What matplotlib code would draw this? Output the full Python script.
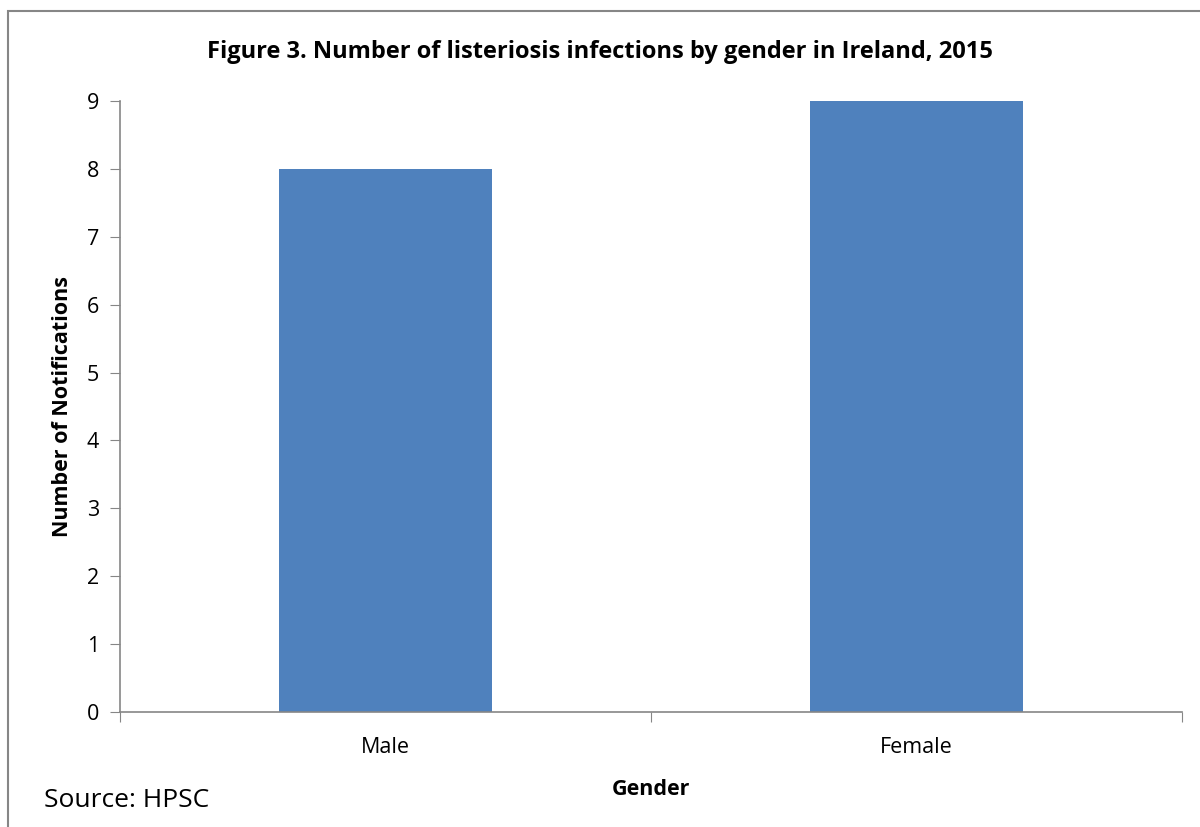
import matplotlib.pyplot as plt
from matplotlib.patches import Rectangle

genders = ["Male", "Female"]
notifications = [8, 9]
y_ticks = list(range(0, 10))

plt.rcParams['font.family'] = ['Open Sans', 'DejaVu Sans']

fig = plt.figure(figsize=(12, 8.27), dpi=100)
ax = fig.add_axes([0.1, 0.139, 0.885, 0.739])

x = list(range(len(genders)))
ax.bar(x, notifications, width=0.4, color='#4F81BD')

ax.set_xlim(-0.5, len(genders) - 0.5)
ax.set_ylim(0, 9)
ax.set_yticks(y_ticks)
ax.set_xticks([-0.5, 0.5, 1.5])
ax.set_xticklabels([])
ax.set_xticks(x, minor=True)
ax.set_xticklabels(genders, minor=True)
ax.tick_params(axis='x', which='minor', length=0, pad=18, labelsize=15.5)
ax.tick_params(axis='x', which='major', length=7, color='#868686', direction='out')
ax.tick_params(axis='y', length=7, color='#868686', labelsize=15.5, pad=8)

for side in ['top', 'right']:
    ax.spines[side].set_visible(False)
for side in ['left', 'bottom']:
    ax.spines[side].set_color('#868686')
    ax.spines[side].set_linewidth(1.2)

ax.set_xlabel("Gender", fontsize=15.5, fontweight='bold', labelpad=15)
ax.set_ylabel("Number of Notifications", fontsize=15.5, fontweight='bold', labelpad=10)
fig.text(0.5, 0.937, "Figure 3. Number of listeriosis infections by gender in Ireland, 2015",
         ha='center', va='center', fontsize=17, fontweight='bold')
fig.text(0.037, 0.032, "Source: HPSC", ha='left', va='center', fontsize=19)

fig.add_artist(Rectangle((8 / 1200, -0.1), 1.2, 1 - 11 / 827 + 0.1,
                         transform=fig.transFigure, fill=False,
                         edgecolor='#868686', linewidth=1.5))

fig.savefig("out.png", dpi=100)
